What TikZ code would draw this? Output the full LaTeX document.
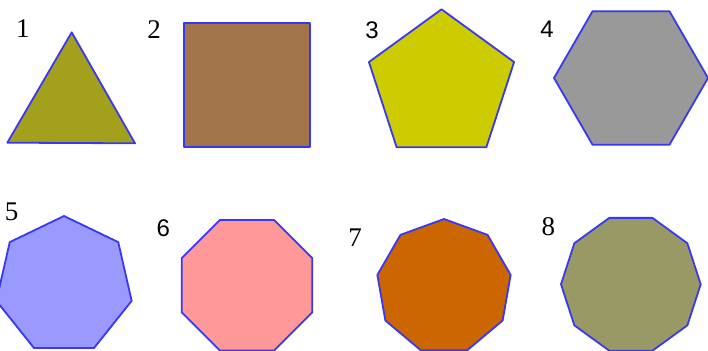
\documentclass[tikz,border=0pt]{standalone}
\usepackage{fontspec}
\setmainfont{Liberation Serif}
\newfontfamily\lblsans{Liberation Sans}
\begin{document}
\begin{tikzpicture}[x=1pt,y=-1pt,
  shapeline/.style={draw=edgeblue,line width=1.8pt,line join=round},
  serlbl/.style={inner sep=0pt,font=\fontsize{27}{27}\selectfont},
  sanslbl/.style={inner sep=0pt,font=\lblsans\fontsize{24}{24}\selectfont}]
\definecolor{edgeblue}{HTML}{3838F0}
\definecolor{cTri}{HTML}{A3A01E}
\definecolor{cSq}{HTML}{A17449}
\definecolor{cPent}{HTML}{CCCC00}
\definecolor{cHex}{HTML}{999999}
\definecolor{cHept}{HTML}{9999FF}
\definecolor{cOct}{HTML}{FF9999}
\definecolor{cNon}{HTML}{CC6600}
\definecolor{cDec}{HTML}{999966}
\useasboundingbox (0,0) rectangle (708,350);
\clip (0,0) rectangle (708,350);
% triangle
\draw[shapeline,fill=cTri] (71.7,32.3) -- (135,143.3) -- (7.3,142.7) -- cycle;
% square
\draw[shapeline,fill=cSq] (184.3,22.7) rectangle (310,147.3);
% regular polygons
\newcommand\regpoly[6]{% n, cx, cy, R, start angle, colour
  \draw[shapeline,fill=#6,shift={(#2,#3)}] (#5:#4)
    \foreach \k in {1,...,\numexpr#1-1\relax} { -- ({#5+360/#1*\k}:#4) } -- cycle;}
\regpoly{5}{441.5}{85.6}{76.3}{-90}{cPent}
\regpoly{6}{631}{78}{77}{0}{cHex}
\regpoly{7}{64}{285.4}{69.4}{-90}{cHept}
\regpoly{8}{247}{285.3}{70.7}{22.5}{cOct}
\regpoly{9}{444}{286.7}{67.7}{-90}{cNon}
\regpoly{10}{630.85}{284.3}{69.85}{0}{cDec}
% labels
\node[serlbl] (l1) at (23,28.5) {1};
\node[serlbl] (l2) at (154,30) {2};
\node[sanslbl] (l3) at (372,30) {3};
\node[sanslbl] (l4) at (547,29.5) {4};
\node[serlbl] (l5) at (11.7,212) {5};
\node[sanslbl] (l6) at (163.3,228) {6};
\node[serlbl] (l7) at (355,238) {7};
\node[serlbl] (l8) at (548.3,227) {8};
\end{tikzpicture}
\end{document}
